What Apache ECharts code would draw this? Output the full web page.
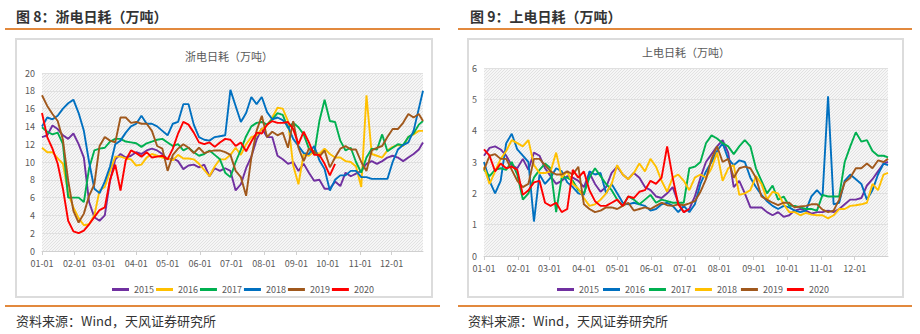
<!DOCTYPE html>
<html>
<head>
<meta charset="utf-8">
<script src="https://cdn.jsdelivr.net/npm/echarts@6/dist/echarts.min.js"></script>
<style>
  body { margin: 0; background: #fff; font-family: "Noto Sans CJK SC", sans-serif; }
  #page { position: relative; width: 920px; height: 334px; overflow: hidden; }
  .fig-title { position: absolute; top: 7px; font-size: 14px; font-weight: bold; color: #333; line-height: 18px; white-space: nowrap; }
  .rule { position: absolute; height: 2px; background: #E2893D; }
  .box { position: absolute; top: 38px; height: 260px; border: 2px solid #dcdcdc; box-sizing: border-box; }
  .source { position: absolute; top: 312px; font-size: 13px; color: #333; line-height: 18px; white-space: nowrap; }
  .chart { position: absolute; top: 0; width: 460px; height: 334px; }
</style>
</head>
<body>
<div id="page">
  <div class="fig-title" style="left:16px">图 8：浙电日耗（万吨）</div>
  <div class="fig-title" style="left:470px">图 9：上电日耗（万吨）</div>
  <div class="rule" style="left:5px; top:28px; width:435px"></div>
  <div class="rule" style="left:458px; top:28px; width:454px"></div>
  <div class="box" style="left:15px; width:418px"></div>
  <div class="box" style="left:467px; width:437px"></div>
  <div class="rule" style="left:5px; top:305px; width:435px"></div>
  <div class="rule" style="left:458px; top:305px; width:454px"></div>
  <div class="source" style="left:16px">资料来源：Wind，天风证券研究所</div>
  <div class="source" style="left:468px">资料来源：Wind，天风证券研究所</div>
  <div id="zj" class="chart" style="left:0"></div>
  <div id="sh" class="chart" style="left:460px"></div>
</div>
<script>
// Sampling dates (every five days through the year)
const sampleDates = ['01-01','01-06','01-11','01-16','01-21','01-26','01-31','02-05','02-10','02-15',
  '02-20','02-25','03-02','03-07','03-12','03-17','03-22','03-27','04-01','04-06',
  '04-11','04-16','04-21','04-26','05-01','05-06','05-11','05-16','05-21','05-26',
  '05-31','06-05','06-10','06-15','06-20','06-25','06-30','07-05','07-10','07-15',
  '07-20','07-25','07-30','08-04','08-09','08-14','08-19','08-24','08-29','09-03',
  '09-08','09-13','09-18','09-23','09-28','10-03','10-08','10-13','10-18','10-23',
  '10-28','11-02','11-07','11-12','11-17','11-22','11-27','12-02','12-07','12-12',
  '12-17','12-22','12-27','12-31'];

const years = ['2015', '2016', '2017', '2018', '2019', '2020'];

// 浙电日耗（万吨）
const zj2015 = [12.8,13.0,14.1,13.7,13.0,12.6,13.2,12.0,10.5,5.5, 3.8,3.4,4.0,7.9,10.3,10.9,10.5,10.7,11.1,10.9,
  11.3,11.5,11.3,10.9,10.3,10.4,10.1,9.2,9.6,9.7, 9.4,9.7,8.4,9.3,9.0,9.3,9.0,6.8,7.5,9.3,
  10.6,12.5,13.8,12.8,12.8,10.7,10.3,9.8,10.0,9.0, 9.8,8.8,7.9,8.0,7.0,7.0,7.8,7.3,8.8,8.4,
  8.7,9.0,9.8,10.1,9.8,10.1,10.5,10.7,10.5,10.1, 10.5,10.9,11.4,12.2];
const zj2016 = [11.6,11.1,11.1,10.4,9.8,6.5,4.9,3.7,2.9,3.0, 4.0,6.8,7.2,9.0,10.6,10.6,10.4,10.3,9.6,9.7,
  10.5,10.9,10.7,10.5,10.4,10.2,10.8,10.4,10.4,10.3, 9.8,9.1,8.4,9.5,10.3,10.3,10.8,11.6,10.8,12.0,
  12.8,13.0,13.7,14.1,15.0,16.1,16.0,14.6,9.6,7.5, 10.9,10.7,11.2,10.9,11.5,10.9,10.5,10.5,10.1,10.0,
  9.5,7.2,17.5,10.9,10.7,10.5,11.3,11.7,11.9,11.8, 12.8,13.1,13.5,13.5];
const zj2017 = [13.9,13.4,13.1,13.3,12.0,6.0,6.0,6.0,5.5,9.3, 11.3,11.5,11.6,12.3,12.6,12.6,12.3,12.2,12.1,11.7,
  12.1,12.3,12.5,12.6,12.2,11.8,12.0,11.3,11.6,11.1, 10.7,10.9,11.3,10.8,10.3,8.8,8.3,10.0,11.4,12.9,
  14.0,14.4,14.5,14.2,14.8,15.5,15.3,13.8,14.4,13.9, 13.1,11.5,10.9,14.6,17.0,14.6,14.5,12.4,11.3,11.6,
  10.0,8.8,10.5,11.5,11.4,13.1,11.2,11.6,12.0,11.9, 12.8,13.2,14.2,14.6];
const zj2018 = [14.0,15.0,14.8,15.2,16.0,16.6,17.0,15.5,13.5,10.0, 7.0,6.5,7.8,9.5,12.0,12.4,13.3,14.0,14.3,15.2,
  14.3,14.3,14.0,13.5,13.0,14.3,14.5,16.5,16.5,14.2, 12.8,12.5,12.4,12.8,12.9,13.0,18.1,16.3,14.5,15.5,
  17.3,16.5,17.3,15.6,14.8,15.0,14.7,14.0,12.6,11.8, 11.0,10.9,11.8,10.2,9.2,6.8,8.0,8.5,8.5,9.0,
  9.0,8.3,8.3,8.1,8.1,8.1,8.1,10.0,11.4,11.9, 12.2,13.5,16.0,18.0];
const zj2019 = [17.5,16.3,15.4,14.6,12.5,7.9,4.5,3.2,4.2,6.2, 7.5,11.8,12.8,12.4,12.2,15.0,15.0,14.4,14.5,14.3,
  14.3,13.5,11.8,11.5,9.0,10.8,11.5,12.0,11.6,11.0, 11.6,11.0,11.2,11.3,11.3,11.1,10.8,9.0,8.3,6.2,
  10.5,13.5,15.2,12.8,13.4,13.0,13.3,11.6,14.6,11.6, 10.1,11.5,11.2,10.6,11.3,9.4,10.5,11.5,11.8,11.4,
  11.4,10.0,9.0,11.3,11.6,11.8,12.8,13.7,13.7,14.4, 15.4,15.0,15.4,14.6];
const zj2020 = [15.5,12.8,11.5,9.8,7.0,3.4,2.2,2.0,2.3,3.0, 3.8,4.6,4.9,8.0,9.7,6.8,10.2,11.3,11.0,10.6,
  11.1,10.5,10.6,10.7,10.3,11.5,13.2,14.5,14.2,13.3, 12.2,12.0,12.2,11.7,12.2,12.6,12.5,11.8,12.2,11.2,
  12.3,13.3,13.2,14.2,14.6,14.4,14.4,14.5,13.7,12.0, 13.4,12.2,10.8,10.8,9.8,8.5,9.8];

// 上电日耗（万吨）
const sh2015 = [3.2,3.45,3.5,3.4,3.2,2.9,2.8,3.1,2.75,3.3, 3.2,2.8,2.55,2.3,2.4,2.55,2.5,2.4,2.2,2.65,
  2.3,2.05,2.2,2.65,2.85,2.6,2.45,2.65,2.5,2.2, 2.1,1.9,1.85,2.0,2.2,1.7,1.4,1.5,1.9,2.5,
  3.0,3.25,3.5,3.7,3.3,2.2,2.4,2.0,1.55,1.55, 1.55,1.4,1.3,1.4,1.25,1.3,1.45,1.5,1.45,1.35,
  1.4,1.4,1.45,1.4,1.5,1.65,1.8,1.8,1.85,2.25, 2.45,2.7,2.95,3.0];
const sh2016 = [3.0,2.4,2.0,2.4,3.6,3.9,3.4,3.2,3.0,1.1, 2.6,2.3,2.5,2.8,2.7,2.35,2.2,2.0,1.95,2.7,
  2.6,2.65,2.0,2.3,2.0,1.7,1.65,1.7,1.65,1.6, 1.45,1.5,1.65,1.7,1.6,1.4,1.6,1.4,1.65,2.3,
  2.7,3.0,3.35,3.6,3.1,2.9,3.05,3.0,2.5,2.2, 1.95,1.75,1.6,1.5,1.6,1.55,1.45,1.4,1.45,1.9,
  2.1,1.9,5.1,1.65,1.7,2.4,2.6,2.45,2.3,1.8, 2.1,2.6,2.95,2.9];
const sh2017 = [2.75,2.55,2.75,2.8,2.75,3.0,2.6,1.8,2.0,2.5, 2.75,2.95,2.8,1.4,2.5,2.5,2.4,2.1,2.0,2.5,
  2.8,2.55,2.3,2.1,1.8,1.6,1.9,1.8,1.65,1.8, 1.95,1.7,1.8,1.75,1.7,1.7,1.7,2.8,2.85,3.0,
  3.6,3.85,3.75,3.6,3.5,3.25,3.5,3.7,3.5,2.8, 2.4,2.0,2.25,1.8,1.9,1.6,1.6,1.55,1.5,1.5,
  1.45,1.95,1.9,1.9,1.9,3.0,3.5,3.95,3.65,3.7, 3.35,3.2,3.2,3.15];
const sh2018 = [2.85,2.3,2.7,3.1,3.35,3.7,3.6,3.5,3.7,2.9, 2.65,2.65,2.7,3.3,2.5,2.7,2.3,2.15,1.85,1.6,
  1.65,1.8,2.0,2.3,2.9,2.6,2.45,2.65,2.95,2.7, 3.1,2.85,2.4,2.05,2.5,2.6,2.4,2.1,2.5,2.6,
  2.5,2.8,3.3,2.4,2.8,2.9,1.95,2.0,2.1,2.55, 2.3,1.8,2.05,2.0,1.65,1.4,1.4,1.3,1.38,1.32,
  1.3,1.3,1.2,1.3,1.5,1.5,1.6,1.62,1.65,1.7, 2.3,2.1,2.6,2.65];
const sh2019 = [2.75,3.2,3.25,3.1,3.1,2.75,2.4,2.2,2.3,3.1, 3.1,2.9,2.7,2.6,2.6,2.7,2.6,2.85,1.65,1.5,
  1.4,1.45,1.55,1.55,1.5,1.6,1.7,1.45,1.5,1.55, 1.5,1.6,1.7,1.62,1.6,1.65,1.62,1.68,1.75,2.05,
  2.45,3.1,3.5,3.0,3.1,2.5,2.8,2.85,2.8,2.5, 1.9,1.8,1.7,1.62,1.7,1.7,1.55,1.58,1.6,1.65,
  1.65,1.48,1.4,1.45,1.8,2.35,2.5,2.8,2.8,2.95, 2.8,3.05,3.0,3.1];
const sh2020 = [3.4,3.2,2.7,2.95,2.8,2.85,2.75,1.95,2.1,2.35, 2.4,1.7,1.6,1.7,1.4,1.5,2.75,2.5,2.7,2.1,
  1.75,1.6,1.6,1.7,1.8,1.6,1.9,1.85,2.05,2.1, 2.4,2.3,2.5,3.5,2.5,1.65,1.4,1.5];

// Every calendar day of a non-leap year, "MM-DD"
const monthLengths = [31, 28, 31, 30, 31, 30, 31, 31, 30, 31, 30, 31];
const dayLabels = [];
monthLengths.forEach(function (len, m) {
  for (let d = 1; d <= len; d++) {
    dayLabels.push(String(m + 1).padStart(2, '0') + '-' + String(d).padStart(2, '0'));
  }
});

// Place sampled values on the daily category axis
function onDailyAxis(values) {
  const out = new Array(dayLabels.length).fill(null);
  values.forEach(function (v, k) { out[dayLabels.indexOf(sampleDates[k])] = v; });
  return out;
}

// Fine pixel hatch for the plot area
function hatchPattern() {
  const c = document.createElement('canvas');
  c.width = 3; c.height = 3;
  const g = c.getContext('2d');
  g.fillStyle = '#f6f6f6';
  g.fillRect(0, 0, 3, 3);
  g.fillStyle = '#e2e2e2';
  g.fillRect(2, 0, 1, 1);
  g.fillRect(1, 1, 1, 1);
  g.fillRect(0, 2, 1, 1);
  return { image: c, repeat: 'repeat' };
}

const FONT = '"Noto Sans CJK SC", sans-serif';
const isMonthStart = function (i, v) { return v.slice(3) === '01'; };

function buildOption(cfg) {
  return {
    animation: false,
    textStyle: { fontFamily: FONT },
    title: {
      text: cfg.title, left: cfg.titleX, top: cfg.titleY, textAlign: 'center', padding: 0,
      textStyle: { fontSize: 11, fontWeight: 'normal', color: '#595959', fontFamily: FONT }
    },
    legend: {
      left: cfg.legendX, top: 280, icon: 'rect', itemWidth: 17, itemHeight: 3, itemGap: cfg.legendGap,
      data: years,
      textStyle: { fontSize: 9, color: '#595959', fontFamily: FONT }
    },
    grid: {
      show: true, left: cfg.grid.left, top: cfg.grid.top, width: cfg.grid.width, height: cfg.grid.height,
      backgroundColor: hatchPattern(), borderWidth: 0
    },
    xAxis: {
      type: 'category', data: dayLabels, boundaryGap: false,
      axisLine: { lineStyle: { color: '#d0d0d0', width: 1 } },
      axisTick: { show: true, interval: isMonthStart, length: 4, lineStyle: { color: '#d0d0d0' } },
      axisLabel: { interval: isMonthStart, fontSize: 9, color: '#595959', margin: cfg.xMargin, fontFamily: FONT },
      splitLine: { show: false }
    },
    yAxis: {
      type: 'value', min: 0, max: cfg.yMax, interval: cfg.yStep,
      axisLine: { show: false }, axisTick: { show: false },
      axisLabel: { fontSize: 9, color: '#595959', margin: 7, fontFamily: FONT },
      splitLine: { lineStyle: { color: '#e0e0e0', width: 1 } }
    },
    series: years.map(function (y, i) {
      return {
        name: y, type: 'line', data: onDailyAxis(cfg.values[i]),
        connectNulls: true, showSymbol: false, symbol: 'none',
        lineStyle: { width: 1.9, color: cfg.colors[i] },
        itemStyle: { color: cfg.colors[i] }
      };
    })
  };
}

const PURPLE = '#7030A0', YELLOW = '#FFC000', GREEN = '#00B050',
      BLUE = '#0070C0', BROWN = '#A0581C', RED = '#FF0000';

const zjChart = echarts.init(document.getElementById('zj'), null, { renderer: 'svg' });
zjChart.setOption(buildOption({
  title: '浙电日耗（万吨）', titleX: 229, titleY: 50,
  legendX: 107, legendGap: 2,
  grid: { left: 42, top: 73, width: 381, height: 178 },
  xMargin: 8, yMax: 20, yStep: 2,
  values: [zj2015, zj2016, zj2017, zj2018, zj2019, zj2020],
  colors: [PURPLE, YELLOW, GREEN, BLUE, BROWN, RED]
}));

const shChart = echarts.init(document.getElementById('sh'), null, { renderer: 'svg' });
shChart.setOption(buildOption({
  title: '上电日耗（万吨）', titleX: 226, titleY: 46,
  legendX: 92, legendGap: 4,
  grid: { left: 24, top: 68, width: 404, height: 188 },
  xMargin: 8, yMax: 6, yStep: 1,
  values: [sh2015, sh2016, sh2017, sh2018, sh2019, sh2020],
  colors: [PURPLE, BLUE, GREEN, YELLOW, BROWN, RED]
}));
</script>
</body>
</html>
